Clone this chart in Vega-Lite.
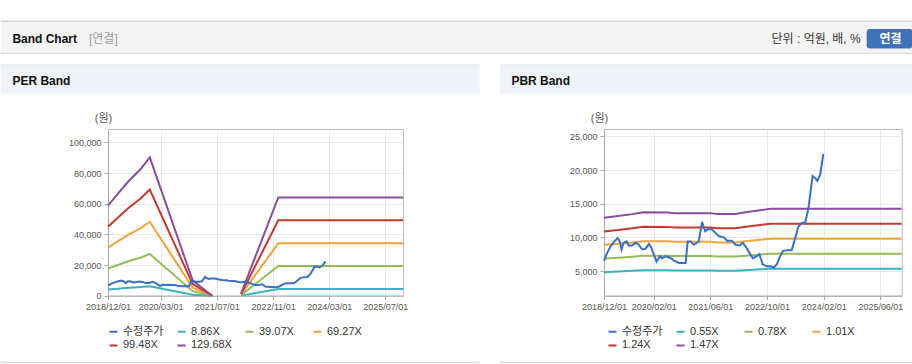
{
  "$schema": "https://vega.github.io/schema/vega-lite/v6.json",
  "background": "white",
  "padding": {"left": 0, "top": 20, "right": 0, "bottom": 0},
  "autosize": {"type": "pad"},
  "bounds": "flush",
  "spacing": 201,
  "config": {
    "font": "Liberation Sans, Noto Sans CJK KR, sans-serif",
    "view": {"stroke": "#b9b9b9", "strokeWidth": 1},
    "axis": {"labelFontSize": 9, "labelColor": "#555555", "domainColor": "#a8a8a8", "tickColor": "#a8a8a8", "tickSize": 4, "labelPadding": 3, "gridColor": "#e8e8e8", "titleFontWeight": "normal", "titleFontSize": 11, "titleColor": "#555555", "labelOverlap": false},
    "legend": {"orient": "none", "columns": 4, "direction": "horizontal", "symbolType": "stroke", "symbolSize": 64, "symbolStrokeWidth": 2, "labelFontSize": 11, "labelColor": "#333333", "columnPadding": 9, "rowPadding": 2, "gridAlign": "all", "labelOffset": 4, "padding": 0},
    "text": {"baseline": "middle"}
  },
  "resolve": {"scale": {"x": "independent", "y": "independent", "color": "independent"}, "legend": {"color": "independent"}},
  "datasets": {
    "price": [
      {"date": "2018/12/01", "value": 6500},
      {"date": "2018/12/28", "value": 7700},
      {"date": "2019/01/28", "value": 8700},
      {"date": "2019/03/01", "value": 9400},
      {"date": "2019/03/28", "value": 9900},
      {"date": "2019/04/16", "value": 9400},
      {"date": "2019/05/01", "value": 8200},
      {"date": "2019/05/19", "value": 9200},
      {"date": "2019/06/13", "value": 9400},
      {"date": "2019/07/01", "value": 8800},
      {"date": "2019/08/01", "value": 8800},
      {"date": "2019/08/28", "value": 9200},
      {"date": "2019/09/25", "value": 8900},
      {"date": "2019/10/25", "value": 8200},
      {"date": "2019/11/22", "value": 8300},
      {"date": "2019/12/22", "value": 9000},
      {"date": "2020/01/10", "value": 8500},
      {"date": "2020/01/28", "value": 7700},
      {"date": "2020/02/25", "value": 6400},
      {"date": "2020/03/25", "value": 7200},
      {"date": "2020/04/13", "value": 6900},
      {"date": "2020/05/13", "value": 7200},
      {"date": "2020/06/28", "value": 6900},
      {"date": "2020/07/28", "value": 6500},
      {"date": "2020/09/04", "value": 6200},
      {"date": "2020/11/01", "value": 6200},
      {"date": "2020/11/19", "value": 9400},
      {"date": "2020/12/13", "value": 9400},
      {"date": "2021/01/10", "value": 8900},
      {"date": "2021/02/22", "value": 9400},
      {"date": "2021/03/22", "value": 12300},
      {"date": "2021/04/19", "value": 10900},
      {"date": "2021/05/10", "value": 11200},
      {"date": "2021/06/16", "value": 11200},
      {"date": "2021/07/13", "value": 10700},
      {"date": "2021/08/13", "value": 10200},
      {"date": "2021/09/25", "value": 10000},
      {"date": "2021/10/22", "value": 9500},
      {"date": "2021/12/04", "value": 9500},
      {"date": "2022/01/04", "value": 8900},
      {"date": "2022/02/10", "value": 8800},
      {"date": "2022/03/07", "value": 9200},
      {"date": "2022/04/10", "value": 8400},
      {"date": "2022/05/10", "value": 7500},
      {"date": "2022/06/01", "value": 6900},
      {"date": "2022/07/07", "value": 7200},
      {"date": "2022/07/28", "value": 7500},
      {"date": "2022/08/25", "value": 6000},
      {"date": "2022/10/01", "value": 5700},
      {"date": "2022/11/04", "value": 5700},
      {"date": "2022/11/25", "value": 5500},
      {"date": "2022/12/25", "value": 6000},
      {"date": "2023/01/22", "value": 7200},
      {"date": "2023/02/16", "value": 8000},
      {"date": "2023/03/19", "value": 8100},
      {"date": "2023/05/01", "value": 8100},
      {"date": "2023/05/28", "value": 9700},
      {"date": "2023/06/28", "value": 11600},
      {"date": "2023/07/25", "value": 12100},
      {"date": "2023/08/25", "value": 12200},
      {"date": "2023/09/22", "value": 14300},
      {"date": "2023/10/10", "value": 16800},
      {"date": "2023/10/28", "value": 19100},
      {"date": "2023/11/19", "value": 18800},
      {"date": "2023/12/07", "value": 18400},
      {"date": "2024/01/01", "value": 19300},
      {"date": "2024/01/13", "value": 20700},
      {"date": "2024/01/28", "value": 22400}
    ],
    "per": [
      {"date": "2018/12/01", "seg": 1, "series": "8.86X", "value": 4010},
      {"date": "2018/12/01", "seg": 1, "series": "39.07X", "value": 17683},
      {"date": "2018/12/01", "seg": 1, "series": "69.27X", "value": 31352},
      {"date": "2018/12/01", "seg": 1, "series": "99.48X", "value": 45025},
      {"date": "2018/12/01", "seg": 1, "series": "129.68X", "value": 58693},
      {"date": "2019/03/19", "seg": 1, "series": "8.86X", "value": 4678},
      {"date": "2019/03/19", "seg": 1, "series": "39.07X", "value": 20629},
      {"date": "2019/03/19", "seg": 1, "series": "69.27X", "value": 36575},
      {"date": "2019/03/19", "seg": 1, "series": "99.48X", "value": 52525},
      {"date": "2019/03/19", "seg": 1, "series": "129.68X", "value": 68471},
      {"date": "2019/06/01", "seg": 1, "series": "8.86X", "value": 5121},
      {"date": "2019/06/01", "seg": 1, "series": "39.07X", "value": 22582},
      {"date": "2019/06/01", "seg": 1, "series": "69.27X", "value": 40038},
      {"date": "2019/06/01", "seg": 1, "series": "99.48X", "value": 57499},
      {"date": "2019/06/01", "seg": 1, "series": "129.68X", "value": 74955},
      {"date": "2019/09/10", "seg": 1, "series": "8.86X", "value": 5644},
      {"date": "2019/09/10", "seg": 1, "series": "39.07X", "value": 24888},
      {"date": "2019/09/10", "seg": 1, "series": "69.27X", "value": 44125},
      {"date": "2019/09/10", "seg": 1, "series": "99.48X", "value": 63369},
      {"date": "2019/09/10", "seg": 1, "series": "129.68X", "value": 82606},
      {"date": "2019/11/28", "seg": 1, "series": "8.86X", "value": 6163},
      {"date": "2019/11/28", "seg": 1, "series": "39.07X", "value": 27177},
      {"date": "2019/11/28", "seg": 1, "series": "69.27X", "value": 48184},
      {"date": "2019/11/28", "seg": 1, "series": "99.48X", "value": 69198},
      {"date": "2019/11/28", "seg": 1, "series": "129.68X", "value": 90205},
      {"date": "2020/12/04", "seg": 1, "series": "8.86X", "value": 670},
      {"date": "2020/12/04", "seg": 1, "series": "39.07X", "value": 2954},
      {"date": "2020/12/04", "seg": 1, "series": "69.27X", "value": 5237},
      {"date": "2020/12/04", "seg": 1, "series": "99.48X", "value": 7521},
      {"date": "2020/12/04", "seg": 1, "series": "129.68X", "value": 9804},
      {"date": "2021/05/22", "seg": 1, "series": "8.86X", "value": 0},
      {"date": "2021/05/22", "seg": 1, "series": "39.07X", "value": 0},
      {"date": "2021/05/22", "seg": 1, "series": "69.27X", "value": 0},
      {"date": "2021/05/22", "seg": 1, "series": "99.48X", "value": 0},
      {"date": "2021/05/22", "seg": 1, "series": "129.68X", "value": 0},
      {"date": "2022/01/28", "seg": 2, "series": "8.86X", "value": 103},
      {"date": "2022/01/28", "seg": 2, "series": "39.07X", "value": 453},
      {"date": "2022/01/28", "seg": 2, "series": "69.27X", "value": 804},
      {"date": "2022/01/28", "seg": 2, "series": "99.48X", "value": 1154},
      {"date": "2022/01/28", "seg": 2, "series": "129.68X", "value": 1504},
      {"date": "2022/12/16", "seg": 2, "series": "8.86X", "value": 4380},
      {"date": "2022/12/16", "seg": 2, "series": "39.07X", "value": 19312},
      {"date": "2022/12/16", "seg": 2, "series": "69.27X", "value": 34240},
      {"date": "2022/12/16", "seg": 2, "series": "99.48X", "value": 49173},
      {"date": "2022/12/16", "seg": 2, "series": "129.68X", "value": 64101},
      {"date": "2025/12/01", "seg": 2, "series": "8.86X", "value": 4380},
      {"date": "2025/12/01", "seg": 2, "series": "39.07X", "value": 19312},
      {"date": "2025/12/01", "seg": 2, "series": "69.27X", "value": 34240},
      {"date": "2025/12/01", "seg": 2, "series": "99.48X", "value": 49173},
      {"date": "2025/12/01", "seg": 2, "series": "129.68X", "value": 64101}
    ],
    "pbr": [
      {"date": "2018/12/01", "series": "0.55X", "value": 4829},
      {"date": "2018/12/01", "series": "0.78X", "value": 6848},
      {"date": "2018/12/01", "series": "1.01X", "value": 8868},
      {"date": "2018/12/01", "series": "1.24X", "value": 10887},
      {"date": "2018/12/01", "series": "1.47X", "value": 12907},
      {"date": "2019/04/01", "series": "0.55X", "value": 4923},
      {"date": "2019/04/01", "series": "0.78X", "value": 6981},
      {"date": "2019/04/01", "series": "1.01X", "value": 9040},
      {"date": "2019/04/01", "series": "1.24X", "value": 11098},
      {"date": "2019/04/01", "series": "1.47X", "value": 13157},
      {"date": "2019/08/01", "series": "0.55X", "value": 5033},
      {"date": "2019/08/01", "series": "0.78X", "value": 7137},
      {"date": "2019/08/01", "series": "1.01X", "value": 9242},
      {"date": "2019/08/01", "series": "1.24X", "value": 11346},
      {"date": "2019/08/01", "series": "1.47X", "value": 13451},
      {"date": "2019/11/01", "series": "0.55X", "value": 5132},
      {"date": "2019/11/01", "series": "0.78X", "value": 7277},
      {"date": "2019/11/01", "series": "1.01X", "value": 9423},
      {"date": "2019/11/01", "series": "1.24X", "value": 11569},
      {"date": "2019/11/01", "series": "1.47X", "value": 13715},
      {"date": "2020/06/01", "series": "0.55X", "value": 5126},
      {"date": "2020/06/01", "series": "0.78X", "value": 7270},
      {"date": "2020/06/01", "series": "1.01X", "value": 9413},
      {"date": "2020/06/01", "series": "1.24X", "value": 11557},
      {"date": "2020/06/01", "series": "1.47X", "value": 13700},
      {"date": "2020/08/01", "series": "0.55X", "value": 5088},
      {"date": "2020/08/01", "series": "0.78X", "value": 7215},
      {"date": "2020/08/01", "series": "1.01X", "value": 9343},
      {"date": "2020/08/01", "series": "1.24X", "value": 11470},
      {"date": "2020/08/01", "series": "1.47X", "value": 13598},
      {"date": "2021/06/01", "series": "0.55X", "value": 5088},
      {"date": "2021/06/01", "series": "0.78X", "value": 7215},
      {"date": "2021/06/01", "series": "1.01X", "value": 9343},
      {"date": "2021/06/01", "series": "1.24X", "value": 11470},
      {"date": "2021/06/01", "series": "1.47X", "value": 13598},
      {"date": "2021/08/01", "series": "0.55X", "value": 5038},
      {"date": "2021/08/01", "series": "0.78X", "value": 7145},
      {"date": "2021/08/01", "series": "1.01X", "value": 9252},
      {"date": "2021/08/01", "series": "1.24X", "value": 11358},
      {"date": "2021/08/01", "series": "1.47X", "value": 13465},
      {"date": "2022/01/01", "series": "0.55X", "value": 5038},
      {"date": "2022/01/01", "series": "0.78X", "value": 7145},
      {"date": "2022/01/01", "series": "1.01X", "value": 9252},
      {"date": "2022/01/01", "series": "1.24X", "value": 11358},
      {"date": "2022/01/01", "series": "1.47X", "value": 13465},
      {"date": "2022/04/01", "series": "0.55X", "value": 5132},
      {"date": "2022/04/01", "series": "0.78X", "value": 7277},
      {"date": "2022/04/01", "series": "1.01X", "value": 9423},
      {"date": "2022/04/01", "series": "1.24X", "value": 11569},
      {"date": "2022/04/01", "series": "1.47X", "value": 13715},
      {"date": "2022/08/01", "series": "0.55X", "value": 5253},
      {"date": "2022/08/01", "series": "0.78X", "value": 7449},
      {"date": "2022/08/01", "series": "1.01X", "value": 9646},
      {"date": "2022/08/01", "series": "1.24X", "value": 11842},
      {"date": "2022/08/01", "series": "1.47X", "value": 14039},
      {"date": "2022/11/01", "series": "0.55X", "value": 5324},
      {"date": "2022/11/01", "series": "0.78X", "value": 7550},
      {"date": "2022/11/01", "series": "1.01X", "value": 9777},
      {"date": "2022/11/01", "series": "1.24X", "value": 12003},
      {"date": "2022/11/01", "series": "1.47X", "value": 14230},
      {"date": "2025/12/01", "series": "0.55X", "value": 5324},
      {"date": "2025/12/01", "series": "0.78X", "value": 7550},
      {"date": "2025/12/01", "series": "1.01X", "value": 9777},
      {"date": "2025/12/01", "series": "1.24X", "value": 12003},
      {"date": "2025/12/01", "series": "1.47X", "value": 14230}
    ]
  },
  "hconcat": [
    {
      "width": 295,
      "height": 166.7,
      "encoding": {
        "x": {"field": "date", "type": "temporal", "scale": {"domain": [{"year": 2018, "month": 12, "date": 1}, {"year": 2025, "month": 12, "date": 1}], "nice": false},
          "axis": {"title": null, "format": "%Y/%m/%d", "labelFlush": false, "labelOverlap": false, "grid": true,
            "values": [{"year": 2018, "month": 12, "date": 1}, {"year": 2020, "month": 3, "date": 1}, {"year": 2021, "month": 7, "date": 1}, {"year": 2022, "month": 11, "date": 1}, {"year": 2024, "month": 3, "date": 1}, {"year": 2025, "month": 7, "date": 1}]}},
        "y": {"field": "value", "type": "quantitative", "scale": {"domain": [0, 108700], "nice": false, "zero": false},
          "axis": {"title": "(원)", "titleAngle": 0, "titleX": -5, "titleY": -10, "titleAlign": "center", "titleBaseline": "middle", "values": [0, 20000, 40000, 60000, 80000, 100000], "format": ",d", "grid": true, "labelOverlap": false, "tickCount": 6}}
      },
      "layer": [
        {"data": {"values": [{}]}, "mark": {"type": "rect", "fill": "#b4b4b4"}, "encoding": {"x": {"value": -107.3}, "x2": {"value": 804.7}, "y": {"value": -108.3}, "y2": {"value": -107.3}}},
        {"data": {"values": [{}]}, "mark": {"type": "rect", "fill": "#f4f4f4"}, "encoding": {"x": {"value": -107.3}, "x2": {"value": 804.7}, "y": {"value": -107.3}, "y2": {"value": -76.3}}},
        {"data": {"values": [{}]}, "mark": {"type": "rect", "fill": "#d9d9d9"}, "encoding": {"x": {"value": -107.3}, "x2": {"value": 804.7}, "y": {"value": -76.3}, "y2": {"value": -75}}},
        {"data": {"values": [{}]}, "mark": {"type": "text", "text": "Band Chart", "align": "left", "fontSize": 12, "fontWeight": "bold", "color": "#111111"}, "encoding": {"x": {"value": -95.6}, "y": {"value": -90}}},
        {"data": {"values": [{}]}, "mark": {"type": "text", "text": "[연결]", "align": "left", "fontSize": 12, "color": "#9a9a9a"}, "encoding": {"x": {"value": -19}, "y": {"value": -90}}},
        {"data": {"values": [{}]}, "mark": {"type": "text", "text": "단위 : 억원, 배, %", "align": "right", "fontSize": 12, "color": "#333333"}, "encoding": {"x": {"value": 752.7}, "y": {"value": -90}}},
        {"data": {"values": [{}]}, "mark": {"type": "rect", "fill": "#3f72b8", "cornerRadius": 3}, "encoding": {"x": {"value": 758.7}, "x2": {"value": 804.7}, "y": {"value": -100}, "y2": {"value": -80.6}}},
        {"data": {"values": [{}]}, "mark": {"type": "text", "text": "연결", "align": "center", "fontSize": 12, "fontWeight": "bold", "color": "#ffffff"}, "encoding": {"x": {"value": 782.5}, "y": {"value": -90.3}}},
        {"data": {"values": [{}]}, "mark": {"type": "rect", "fill": "#d9dde2"}, "encoding": {"x": {"value": -107.3}, "x2": {"value": 371.7}, "y": {"value": -64.5}, "y2": {"value": -63.5}}},
        {"data": {"values": [{}]}, "mark": {"type": "rect", "fill": "#eff2f6"}, "encoding": {"x": {"value": -107.3}, "x2": {"value": 371.7}, "y": {"value": -63.5}, "y2": {"value": -35.6}}},
        {"data": {"values": [{}]}, "mark": {"type": "text", "text": "PER Band", "align": "left", "fontSize": 12, "fontWeight": "bold", "color": "#111111"}, "encoding": {"x": {"value": -95.6}, "y": {"value": -48.3}}},
        {"data": {"values": [{}]}, "mark": {"type": "rect", "fill": "#cfcfcf"}, "encoding": {"x": {"value": -107.3}, "x2": {"value": 371.7}, "y": {"value": 232.7}, "y2": {"value": 233.7}}},
        {
          "data": {"name": "per"},
          "mark": {"type": "line", "strokeWidth": 2},
          "encoding": {
            "color": {"field": "series", "type": "nominal",
              "scale": {"domain": ["수정주가", "8.86X", "39.07X", "69.27X", "99.48X", "129.68X"], "range": ["#3b6fc5", "#3cb0c4", "#94bc58", "#f2a43a", "#c33a2d", "#8b4e9c"]},
              "legend": {"title": null, "legendX": 0, "legendY": 197}},
            "detail": {"field": "seg", "type": "nominal"}
          }
        },
        {
          "data": {"name": "price"},
          "mark": {"type": "line", "strokeWidth": 2},
          "encoding": {
            "color": {"datum": "수정주가"}
          }
        }
      ]
    },
    {
      "width": 297.7,
      "height": 166.7,
      "encoding": {
        "x": {"field": "date", "type": "temporal", "scale": {"domain": [{"year": 2018, "month": 12, "date": 1}, {"year": 2025, "month": 12, "date": 1}], "nice": false},
          "axis": {"title": null, "format": "%Y/%m/%d", "labelFlush": false, "labelOverlap": false, "grid": true,
            "values": [{"year": 2018, "month": 12, "date": 1}, {"year": 2020, "month": 2, "date": 1}, {"year": 2021, "month": 6, "date": 1}, {"year": 2022, "month": 10, "date": 1}, {"year": 2024, "month": 2, "date": 1}, {"year": 2025, "month": 6, "date": 1}]}},
        "y": {"field": "value", "type": "quantitative", "scale": {"domain": [1340, 26090], "nice": false, "zero": false},
          "axis": {"title": "(원)", "titleAngle": 0, "titleX": -5, "titleY": -10, "titleAlign": "center", "titleBaseline": "middle", "values": [5000, 10000, 15000, 20000, 25000], "format": ",d", "grid": true, "labelOverlap": false}}
      },
      "layer": [
        {"data": {"values": [{}]}, "mark": {"type": "rect", "fill": "#d9dde2"}, "encoding": {"x": {"value": -104}, "x2": {"value": 308.7}, "y": {"value": -64.5}, "y2": {"value": -63.5}}},
        {"data": {"values": [{}]}, "mark": {"type": "rect", "fill": "#eff2f6"}, "encoding": {"x": {"value": -104}, "x2": {"value": 308.7}, "y": {"value": -63.5}, "y2": {"value": -35.6}}},
        {"data": {"values": [{}]}, "mark": {"type": "text", "text": "PBR Band", "align": "left", "fontSize": 12, "fontWeight": "bold", "color": "#111111"}, "encoding": {"x": {"value": -92.6}, "y": {"value": -48.3}}},
        {"data": {"values": [{}]}, "mark": {"type": "rect", "fill": "#cfcfcf"}, "encoding": {"x": {"value": -104}, "x2": {"value": 308.7}, "y": {"value": 232.7}, "y2": {"value": 233.7}}},
        {
          "data": {"name": "pbr"},
          "mark": {"type": "line", "strokeWidth": 2},
          "encoding": {
            "color": {"field": "series", "type": "nominal",
              "scale": {"domain": ["수정주가", "0.55X", "0.78X", "1.01X", "1.24X", "1.47X"], "range": ["#3b6fc5", "#3cb0c4", "#94bc58", "#f2a43a", "#c33a2d", "#8b4e9c"]},
              "legend": {"title": null, "legendX": 3, "legendY": 197}}
          }
        },
        {
          "data": {"name": "price"},
          "mark": {"type": "line", "strokeWidth": 2},
          "encoding": {
            "color": {"datum": "수정주가"}
          }
        }
      ]
    }
  ]
}
